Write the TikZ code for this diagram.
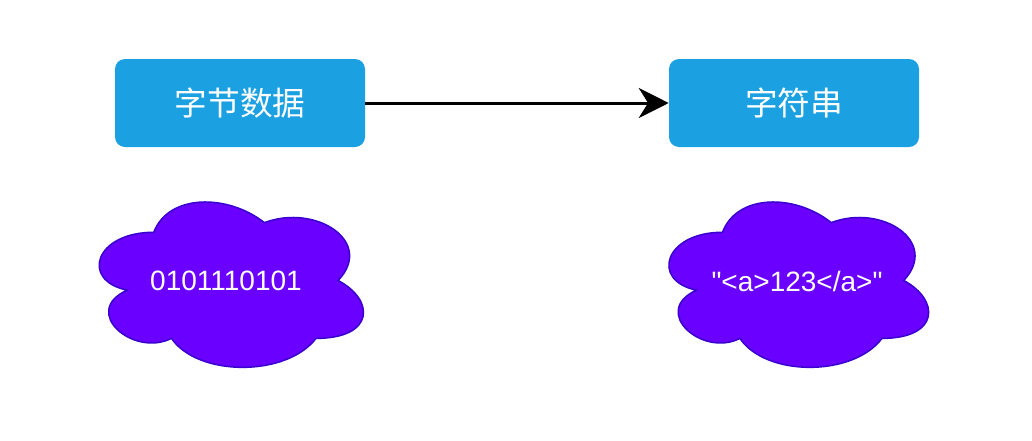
\documentclass[tikz,border=0pt]{standalone}
\usepackage{fontspec}
\setmainfont{Liberation Sans}
\newfontfamily\lsans{Liberation Sans}
\newfontfamily\cjk{Noto Sans CJK SC}
\usetikzlibrary{arrows.meta}
\definecolor{boxblue}{HTML}{1BA1E2}
\definecolor{cloudfill}{HTML}{6A00FF}
\definecolor{cloudline}{HTML}{3700CC}
\tikzset{
  databox/.style={fill=boxblue, draw=none, rounded corners=7.5pt, minimum width=187.5pt, minimum height=66pt, inner sep=0pt, text=white, font=\cjk\fontsize{24.5}{28}\selectfont},
  cloudtext/.style={text=white, font=\lsans\fontsize{21}{25}\selectfont, inner sep=0pt},
  cloudshape/.style={fill=cloudfill, draw=cloudline, line width=1.1pt},
  flow/.style={draw=black, line width=2.25pt, -{Stealth[length=22.5pt, width=22.5pt, inset=7pt]}}
}
% cloud path (draw.io cloud) in unit box, origin top-left, y down
\newcommand{\mycloud}[4]{% x, y, w, h
  \begin{scope}[shift={(#1,#2)}, x={(#3*0.75pt,0)}, y={(0,-#4*0.75pt)}]
    \path[cloudshape] (0.25,0.25)
      .. controls (0.05,0.25) and (0,0.5) .. (0.16,0.55)
      .. controls (0,0.66) and (0.18,0.9) .. (0.31,0.8)
      .. controls (0.4,1) and (0.7,1) .. (0.8,0.8)
      .. controls (1,0.8) and (1,0.6) .. (0.875,0.5)
      .. controls (1,0.3) and (0.8,0.1) .. (0.625,0.2)
      .. controls (0.5,0.05) and (0.3,0.05) .. (0.25,0.25) -- cycle;
  \end{scope}}
\begin{document}
\begin{tikzpicture}[x=0.75pt, y=-0.75pt]
  \useasboundingbox (0,0) rectangle (1032,440);
  \node[databox] (bytes) at (240,103) {字节数据};
  \node[databox] (str) at (794,103) {字符串};
  \draw[flow] (bytes.east) -- (str.west);
  \mycloud{80}{184}{295}{193}
  \node[cloudtext] (bin) at (226,281) {0101110101};
  \mycloud{650}{184}{290}{193}
  \node[cloudtext] (txt) at (797,281) {"<a>123</a>"};
\end{tikzpicture}
\end{document}
